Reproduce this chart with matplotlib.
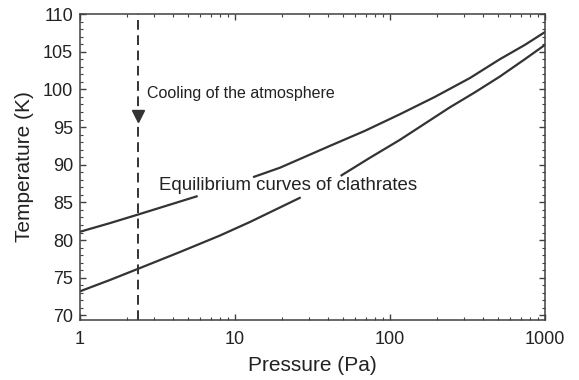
import matplotlib
matplotlib.use("Agg")
import numpy as np
import matplotlib.pyplot as plt
from matplotlib.ticker import MultipleLocator, LogLocator, NullFormatter, FixedFormatter, FixedLocator

plt.rcParams['font.family'] = ['Liberation Sans', 'DejaVu Sans']
plt.rcParams['lines.scale_dashes'] = False

# values (NaN = gap where the label sits)
p_upper = [1, 1.56, 2.38, 5.66, np.nan, 13.3, 19.5, 41, 69, 116, 195, 328, 512, 742, 1000]
t_upper = [81.1, 82.25, 83.4, 85.8, np.nan, 88.4, 89.6, 92.5, 94.5, 96.7, 99.0, 101.5, 104.0, 105.9, 107.6]

p_lower = [1, 1.56, 2.38, 4.4, 8.0, 12.5, 26.2, np.nan, 48.8, 74, 116, 243, 353, 512, 742, 1000]
t_lower = [73.2, 74.7, 76.2, 78.4, 80.6, 82.4, 85.6, np.nan, 88.6, 90.9, 93.3, 97.6, 99.6, 101.7, 104.0, 105.9]

p_cooling = 2.38
t_arrow = 96.5

x_ticks = [1, 10, 100, 1000]
x_ticklabels = ["1", "10", "100", "1000"]

line_col = '#333333'

fig = plt.figure(figsize=(5.79, 3.80), dpi=100)
ax = fig.add_axes([0.138, 0.158, 0.803, 0.805])

ax.plot(p_upper, t_upper, color=line_col, lw=1.6)
ax.plot(p_lower, t_lower, color=line_col, lw=1.6)

ax.axvline(p_cooling, color=line_col, lw=1.4, dashes=(7, 4))
ax.plot([p_cooling], [t_arrow], marker='v', markersize=8, color=line_col, zorder=5)

ax.text(2.69, 99.45, "Cooling of the atmosphere", fontsize=11.5, color='#222222', va='center')
ax.text(3.25, 87.3, "Equilibrium curves of clathrates", fontsize=13.4, color='#222222', va='center')

ax.set_xscale('log')
ax.set_xlim(1, 1000)
ax.set_ylim(69.4, 110)

ax.xaxis.set_major_locator(FixedLocator(x_ticks))
ax.xaxis.set_major_formatter(FixedFormatter(x_ticklabels))
ax.xaxis.set_minor_locator(LogLocator(base=10, subs=np.arange(2, 10)))
ax.xaxis.set_minor_formatter(NullFormatter())
ax.yaxis.set_major_locator(FixedLocator([70, 75, 80, 85, 90, 95, 100, 105, 110]))
ax.yaxis.set_minor_locator(MultipleLocator(1))

ax.tick_params(which='both', direction='in', top=True, right=True, colors='#404040', labelcolor='#222222')
ax.tick_params(which='major', length=4, width=1, labelsize=13, pad=5)
ax.tick_params(axis='x', which='major', pad=8)
ax.tick_params(which='minor', length=2.5, width=0.8)

for s in ax.spines.values():
    s.set_color('#404040')
    s.set_linewidth(1.1)

ax.set_xlabel("Pressure (Pa)", fontsize=15, color='#222222', labelpad=6)
ax.set_ylabel("Temperature (K)", fontsize=15, color='#222222', labelpad=6)

fig.savefig("out.png", dpi=100)
